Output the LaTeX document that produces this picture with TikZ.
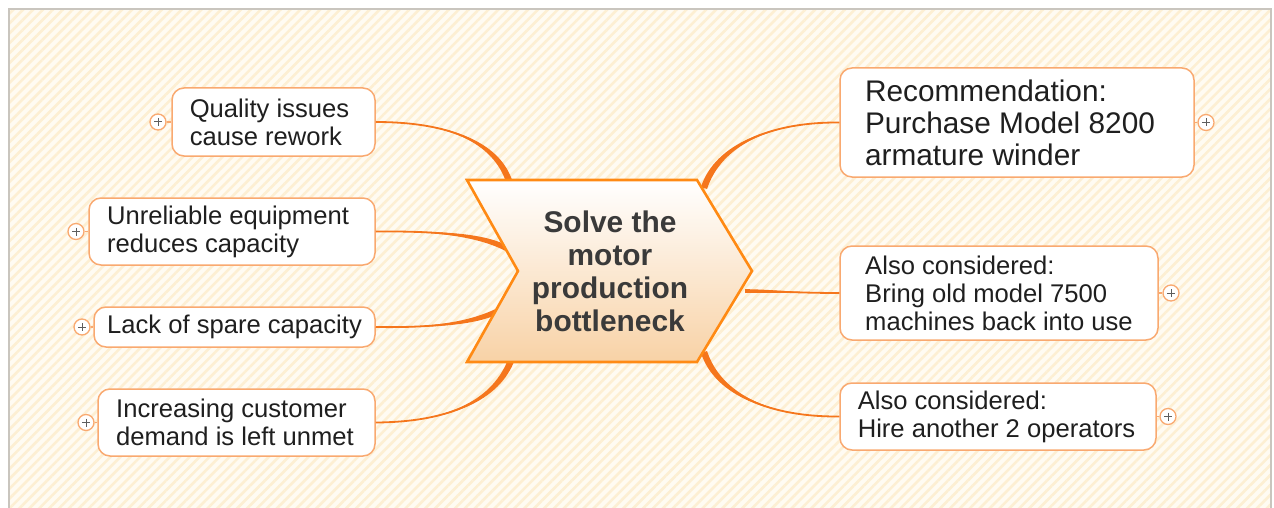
\documentclass[tikz,border=0pt]{standalone}
\usepackage{fontspec}
\setmainfont{Liberation Sans}
\usetikzlibrary{calc,patterns.meta}
\definecolor{bgc}{HTML}{FFFBF2}
\definecolor{stripe}{HTML}{FDEFD3}
\definecolor{framec}{HTML}{C9C5BE}
\definecolor{conn}{HTML}{F5761C}
\definecolor{boxline}{HTML}{F9A970}
\definecolor{ctrline}{HTML}{FF8A14}
\definecolor{ctrbot}{HTML}{F8D2A6}
\definecolor{txt}{HTML}{1F1F1F}
\definecolor{ctrtxt}{HTML}{3A3A3A}
\definecolor{plusc}{HTML}{5E5E5E}

\newcommand\mmtaper[5]{%
 \fill[conn] (#1) .. controls (#2) and ($(#3)!#5!-90:(#4)$) .. ($(#4)!#5!90:(#3)$) -- ($(#4)!#5!-90:(#3)$) .. controls ($(#3)!#5!90:(#4)$) and (#2) .. (#1) -- cycle;
 \draw[conn, line width=1.8pt] (#1) .. controls (#2) and (#3) .. (#4);}
\newcommand\padr[1]{\rule{#1}{0pt}}

\tikzset{
  mmbox/.style={draw=boxline, line width=1.5pt, fill=white, rounded corners=12pt,
    align=left, font=\fontsize{25.6}{28}\selectfont, text=txt, inner sep=0pt},
  recbox/.style={mmbox, font=\fontsize{29.8}{32}\selectfont},
  plusbtn/.style={circle, draw=boxline, line width=1.3pt, fill=white, minimum size=16pt, inner sep=0pt,
    path picture={\draw[plusc, line width=1pt] ($(path picture bounding box.center)+(-4,0)$) -- ++(8,0)
      ($(path picture bounding box.center)+(0,-4)$) -- ++(0,8);}},
  plink/.style={draw=boxline, line width=1.3pt}
}

\begin{document}
\begin{tikzpicture}[x=1pt,y=-1pt]
\useasboundingbox (0,0) rectangle (1274,508);
% background
\fill[white] (0,0) rectangle (1274,508);
\fill[bgc] (9,9) rectangle (1271,520);
\fill[pattern={Lines[angle=45,distance=7pt,line width=2.6pt]}, pattern color=stripe] (9,9) rectangle (1271,520);
\draw[framec, line width=1.5pt] (9,520) -- (9,9) -- (1271,9) -- (1271,520);

% boxes
\node[mmbox, minimum width=203pt, minimum height=68pt] (Q) at (273.5,122) {Quality issues\padr{8pt}\\cause rework};
\node[mmbox, minimum width=286pt, minimum height=67pt] (U) at (232,231.5) {Unreliable equipment\padr{8pt}\\reduces capacity};
\node[mmbox, minimum width=281pt, minimum height=40pt] (L) at (234.5,327) {Lack of spare capacity};
\node[mmbox, minimum width=277pt, minimum height=67pt] (I) at (236.5,422.5) {Increasing customer\\demand is left unmet\padr{3pt}};
\node[recbox, minimum width=354pt, minimum height=109pt] (R) at (1017,122.5) {Recommendation:\\Purchase Model 8200\padr{14pt}\\armature winder};
\node[mmbox, minimum width=318pt, minimum height=94pt] (A1) at (999,293) {Also considered:\\Bring old model 7500\\machines back into use};
\node[mmbox, minimum width=316pt, minimum height=67pt] (A2) at (998,416.5) {Also considered:\\Hire another 2 operators\padr{3pt}};

% centre anchor points
\coordinate (cq) at (510,184);
\coordinate (cu) at (506,248);
\coordinate (cl) at (498,311);
\coordinate (ci) at (512,358);
\coordinate (cr) at (704,188);
\coordinate (ca1) at (745,291);
\coordinate (ca2) at (704,352);

% connectors
\mmtaper{Q.east}{445,122}{497,140}{cq}{3.2pt}
\mmtaper{U.east}{440,231}{480,235}{cu}{2.8pt}
\mmtaper{L.east}{440,328}{475,322}{cl}{2.8pt}
\mmtaper{I.east}{450,422}{497,400}{ci}{3.2pt}
\mmtaper{R.west}{770,122}{718,145}{cr}{3.2pt}
\mmtaper{A1.west}{800,293}{770,291}{ca1}{1.8pt}
\mmtaper{A2.west}{770,417}{718,395}{ca2}{3.2pt}

% centre shape
\coordinate (tl) at (467,180);
\coordinate (tr) at (697,180);
\coordinate (tip) at (752,271);
\coordinate (br) at (697,362);
\coordinate (bl) at (467,362);
\coordinate (notch) at (518,271);
\draw[ctrline, line width=2.6pt, top color=white, bottom color=ctrbot] (tl) -- (tr) -- (tip) -- (br) -- (bl) -- (notch) -- cycle;
\node[font=\fontsize{29.9}{33}\selectfont\bfseries, align=center, text=ctrtxt] (C) at (610,271) {Solve the\\motor\\production\\bottleneck};

% plus buttons
\node[plusbtn] (pq) at (158,122) {};
\node[plusbtn] (pu) at (76,231.5) {};
\node[plusbtn] (pl) at (82,327) {};
\node[plusbtn] (pi) at (86,422.5) {};
\node[plusbtn] (pr) at (1206,122.5) {};
\node[plusbtn] (pa1) at (1171,293) {};
\node[plusbtn] (pa2) at (1168,416.5) {};
\draw[plink] (pq) -- (Q);
\draw[plink] (pu) -- (U);
\draw[plink] (pl) -- (L);
\draw[plink] (pi) -- (I);
\draw[plink] (R) -- (pr);
\draw[plink] (A1) -- (pa1);
\draw[plink] (A2) -- (pa2);
\end{tikzpicture}
\end{document}
